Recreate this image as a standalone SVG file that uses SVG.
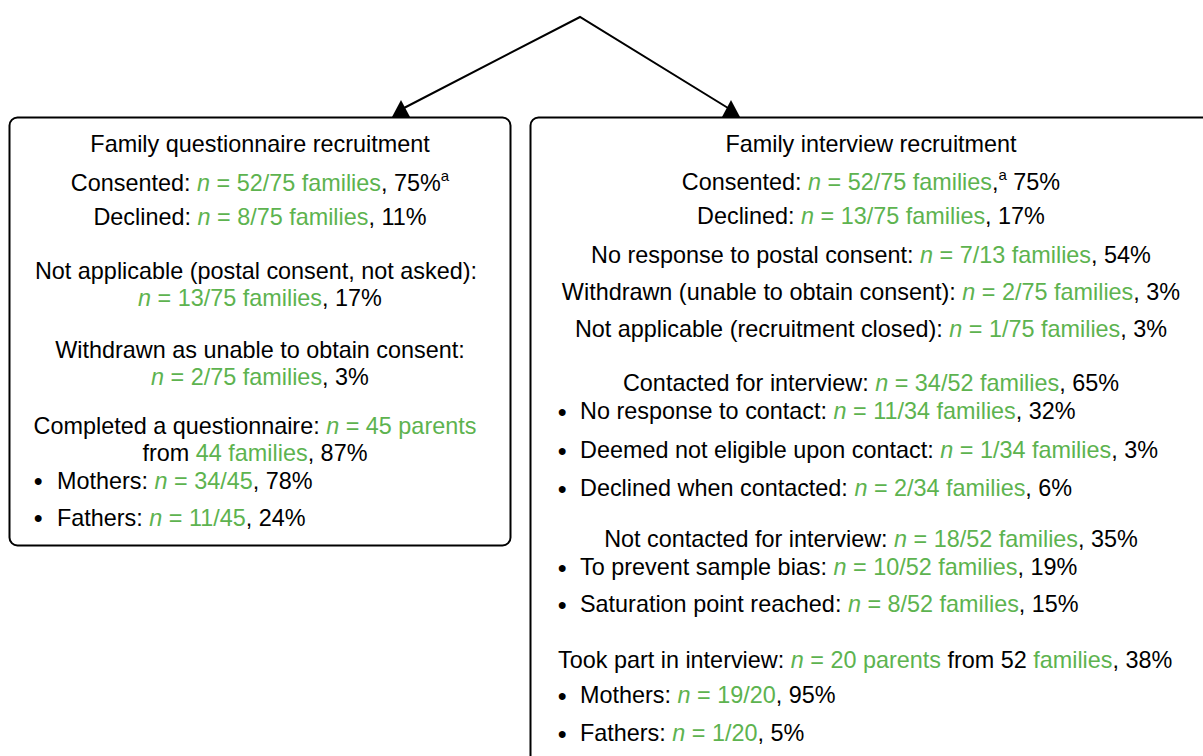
<svg xmlns="http://www.w3.org/2000/svg" width="1203" height="756" viewBox="0 0 1203 756">
<style>
text{font-family:"Liberation Sans",Arial,sans-serif;font-size:23.4px;fill:#000}
.c{text-anchor:middle}
.g{fill:#5db34f}
.i{font-style:italic}
.box{fill:#fff;stroke:#000;stroke-width:2}
.sup{font-size:15px}
.b{font-size:24px;font-weight:bold}
</style>
<rect width="1203" height="756" fill="#fff"/>
<g id="connectors" stroke="#000" stroke-width="2" fill="none">
<polyline points="404,108 580,17 728,108"/>
<polygon points="401,100 392,117 410,117" fill="#000" stroke="none"/>
<polygon points="731,100 722,117 740,117" fill="#000" stroke="none"/>
</g>
<g id="questionnaire">
<rect class="box" x="9.5" y="117.5" width="501" height="428" rx="8"/>
<text class="c" x="260" y="152">Family questionnaire recruitment</text>
<text class="c" x="260" y="191">Consented: <tspan class="g"><tspan class="i">n</tspan> = 52/75 families</tspan>, 75%<tspan class="sup" dy="-10">a</tspan></text>
<text class="c" x="260" y="225">Declined: <tspan class="g"><tspan class="i">n</tspan> = 8/75 families</tspan>, 11%</text>
<text class="c" x="256" y="279">Not applicable (postal consent, not asked):</text>
<text class="c" x="260" y="306"><tspan class="g"><tspan class="i">n</tspan> = 13/75 families</tspan>, 17%</text>
<text class="c" x="260" y="358">Withdrawn as unable to obtain consent:</text>
<text class="c" x="260" y="385"><tspan class="g"><tspan class="i">n</tspan> = 2/75 families</tspan>, 3%</text>
<text class="c" x="255" y="434">Completed a questionnaire: <tspan class="g"><tspan class="i">n</tspan> = 45 parents</tspan></text>
<text class="c" x="255" y="461">from <tspan class="g">44 families</tspan>, 87%</text>
<text class="b" x="34" y="489">•</text><text x="57" y="489">Mothers: <tspan class="g"><tspan class="i">n</tspan> = 34/45</tspan>, 78%</text>
<text class="b" x="34" y="526">•</text><text x="57" y="526">Fathers: <tspan class="g"><tspan class="i">n</tspan> = 11/45</tspan>, 24%</text>
</g>
<g id="interview">
<rect class="box" x="530.5" y="117.5" width="700" height="700" rx="8"/>
<text class="c" x="871" y="152">Family interview recruitment</text>
<text class="c" x="871" y="190">Consented: <tspan class="g"><tspan class="i">n</tspan> = 52/75 families</tspan>,<tspan class="sup" dy="-10">a</tspan><tspan dy="10"> 75%</tspan></text>
<text class="c" x="871" y="224">Declined: <tspan class="g"><tspan class="i">n</tspan> = 13/75 families</tspan>, 17%</text>
<text class="c" x="871" y="263">No response to postal consent: <tspan class="g"><tspan class="i">n</tspan> = 7/13 families</tspan>, 54%</text>
<text class="c" x="871" y="300">Withdrawn (unable to obtain consent): <tspan class="g"><tspan class="i">n</tspan> = 2/75 families</tspan>, 3%</text>
<text class="c" x="871" y="337">Not applicable (recruitment closed): <tspan class="g"><tspan class="i">n</tspan> = 1/75 families</tspan>, 3%</text>
<text class="c" x="871" y="391">Contacted for interview: <tspan class="g"><tspan class="i">n</tspan> = 34/52 families</tspan>, 65%</text>
<text class="b" x="558" y="420">•</text><text x="580" y="419">No response to contact: <tspan class="g"><tspan class="i">n</tspan> = 11/34 families</tspan>, 32%</text>
<text class="b" x="558" y="459">•</text><text x="580" y="458">Deemed not eligible upon contact: <tspan class="g"><tspan class="i">n</tspan> = 1/34 families</tspan>, 3%</text>
<text class="b" x="558" y="497">•</text><text x="580" y="496">Declined when contacted: <tspan class="g"><tspan class="i">n</tspan> = 2/34 families</tspan>, 6%</text>
<text class="c" x="871" y="547">Not contacted for interview: <tspan class="g"><tspan class="i">n</tspan> = 18/52 families</tspan>, 35%</text>
<text class="b" x="558" y="576">•</text><text x="580" y="575">To prevent sample bias: <tspan class="g"><tspan class="i">n</tspan> = 10/52 families</tspan>, 19%</text>
<text class="b" x="558" y="613">•</text><text x="580" y="612">Saturation point reached: <tspan class="g"><tspan class="i">n</tspan> = 8/52 families</tspan>, 15%</text>
<text x="558" y="668">Took part in interview: <tspan class="g"><tspan class="i">n</tspan> = 20 parents</tspan> from 52 <tspan class="g">families</tspan>, 38%</text>
<text class="b" x="558" y="704">•</text><text x="580" y="703">Mothers: <tspan class="g"><tspan class="i">n</tspan> = 19/20</tspan>, 95%</text>
<text class="b" x="558" y="742">•</text><text x="580" y="741">Fathers: <tspan class="g"><tspan class="i">n</tspan> = 1/20</tspan>, 5%</text>
</g>
</svg>
